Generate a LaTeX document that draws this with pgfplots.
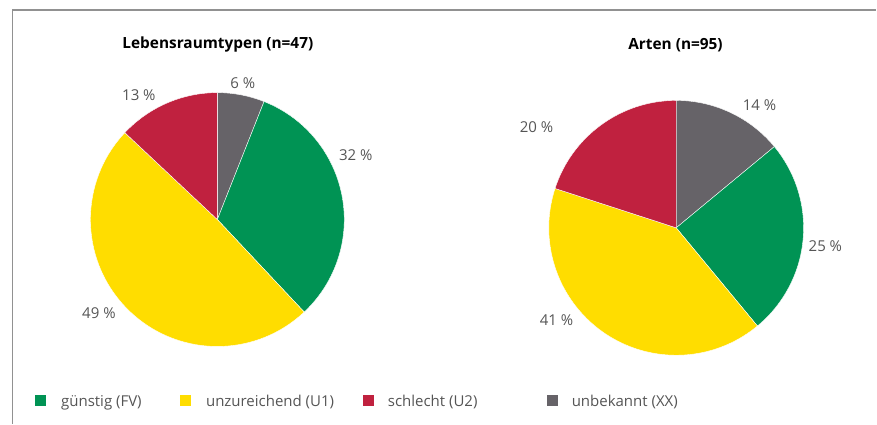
\documentclass[border=0pt]{standalone}
\usepackage{pgfplots}
\pgfplotsset{compat=1.18}
\usepackage{pgfplotstable}
\usepackage{fontspec}
\setmainfont{Open Sans}
\definecolor{gruen}{RGB}{0,147,84}
\definecolor{gelb}{RGB}{255,221,0}
\definecolor{rot}{RGB}{192,33,63}
\definecolor{grau}{RGB}{102,99,104}
\definecolor{txt}{RGB}{85,85,85}
\definecolor{rahmen}{RGB}{145,145,145}

% slice: cx cy r startpct endpct colour
\newcommand\slice[6]{%
  \pgfmathsetmacro\sa{90-3.6*#4}%
  \pgfmathsetmacro\ea{90-3.6*#5}%
  \edef\temp{\noexpand\fill[#6,draw=white,line width=0.4pt] (axis cs:#1,#2) -- ++(\sa:#3pt) arc[start angle=\sa, end angle=\ea, radius=#3pt] -- cycle;}%
  \temp}
% pie: cx cy r {value/colour,...} clockwise from 12 o'clock
\newcommand\pie[4]{%
  \gdef\cum{0}%
  \foreach \v/\c in {#4}{%
    \pgfmathsetmacro\nx{\cum+\v}%
    \slice{#1}{#2}{#3}{\cum}{\nx}{\c}%
    \global\let\cum\nx}}

\begin{document}
\begin{tikzpicture}
\begin{axis}[
  scale only axis, width=877pt, height=424pt,
  xmin=0, xmax=877, ymin=0, ymax=424,
  hide axis, clip=false,
]
\path (axis cs:0,0) rectangle (axis cs:877,424);
% frame
\draw[rahmen, line width=1.3pt] (axis cs:12.5,0) -- (axis cs:12.5,414) -- (axis cs:877,414);

% Lebensraumtypen (n=47): unbekannt, guenstig, unzureichend, schlecht
\pie{217.5}{204.3}{127}{6/grau, 32/gruen, 49/gelb, 13/rot}
% Arten (n=95)
\pie{676.7}{196}{127.5}{14/grau, 25/gruen, 41/gelb, 20/rot}

% titles
\node[font=\fontsize{15.4}{18}\selectfont\bfseries] at (axis cs:218,379) {Lebensraumtypen (n=47)};
\node[font=\fontsize{15.4}{18}\selectfont\bfseries] at (axis cs:676,379) {Arten (n=95)};

% slice labels
\begin{scope}[every node/.style={text=txt, font=\fontsize{15}{17}\selectfont}]
\node at (axis cs:243,341) {6 \%};
\node at (axis cs:139,329) {13 \%};
\node at (axis cs:356,269) {32 \%};
\node at (axis cs:99,111) {49 \%};
\node at (axis cs:760,319) {14 \%};
\node at (axis cs:537,297) {20 \%};
\node at (axis cs:826,178) {25 \%};
\node at (axis cs:557,104) {41 \%};
\end{scope}

% legend
\begin{scope}[every node/.style={text=txt, font=\fontsize{15}{17}\selectfont, anchor=base west, inner sep=0pt}]
\fill[gruen] (axis cs:35,17.5) rectangle (axis cs:46.5,29);
\node at (axis cs:61,17.3) {günstig (FV)};
\fill[gelb] (axis cs:180,17.5) rectangle (axis cs:191.5,29);
\node at (axis cs:206,17.3) {unzureichend (U1)};
\fill[rot] (axis cs:363,17.5) rectangle (axis cs:374.5,29);
\node at (axis cs:388,17.3) {schlecht (U2)};
\fill[grau] (axis cs:547,17.5) rectangle (axis cs:558.5,29);
\node at (axis cs:572,17.3) {unbekannt (XX)};
\end{scope}
\end{axis}
\end{tikzpicture}
\end{document}
